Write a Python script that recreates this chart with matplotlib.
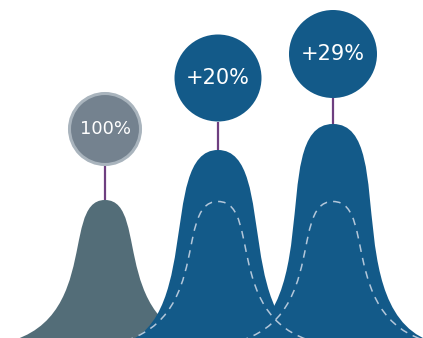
import numpy as np
import matplotlib
matplotlib.use("Agg")
import matplotlib.pyplot as plt
from matplotlib.patches import Circle, PathPatch
from matplotlib.path import Path

# data (pixel-like units, y up)
labels = ["100%", "+20%", "+29%"]
centers = [105, 218, 333]
peak_heights = [146, 196, 222]
base_half_widths = [133, 114.4, 127.5]
foot_handles = [137, 104.5, 132]   # bezier handle length at the foot
top_handles = [48.5, 63, 70.4]     # bezier handle length at the peak
bubble_y = [209, 260, 284]
bubble_r = [37, 43.5, 44]
font_sizes = [13, 15, 15]

fill_colors = ["#536d78", "#135a89", "#135a89"]
bubble_colors = ["#74828f", "#135a89", "#135a89"]
bubble_edges = ["#a9b4bd", "#135a89", "#135a89"]
line_color = "#6e3f80"
dash_color = "#b3c7da"

baseline = -8
W, H = 423, 338


def bell_path(c, h, L, k1, k2, closed=True):
    b = baseline
    verts = [(c - L, b), (c - L + k1, b), (c - k2, b + h), (c, b + h),
             (c + k2, b + h), (c + L - k1, b), (c + L, b)]
    codes = [Path.MOVETO] + [Path.CURVE4] * 6
    if closed:
        verts += [(c + L, b - 10), (c - L, b - 10), (c - L, b)]
        codes += [Path.LINETO, Path.LINETO, Path.CLOSEPOLY]
    return Path(verts, codes)


fig = plt.figure(figsize=(W / 100, H / 100), dpi=100)
ax = fig.add_axes([0, 0, 1, 1])
ax.set_xlim(0, W)
ax.set_ylim(0, H)
ax.set_aspect("equal")
ax.axis("off")

# filled bells
for i in range(3):
    p = bell_path(centers[i], peak_heights[i], base_half_widths[i],
                  foot_handles[i], top_handles[i])
    ax.add_patch(PathPatch(p, facecolor=fill_colors[i], lw=0, zorder=2 + i))

# dashed outline of the baseline bell inside the bigger ones
for i in range(1, 3):
    p = bell_path(centers[i], peak_heights[0] - 1.5, base_half_widths[0],
                  foot_handles[0], top_handles[0], closed=False)
    ax.add_patch(PathPatch(p, fill=False, edgecolor=dash_color, lw=1.1,
                           linestyle=(0, (5, 4)), zorder=10))

# stems and bubbles
for i in range(3):
    top = baseline + peak_heights[i]
    ax.plot([centers[i], centers[i]], [top, bubble_y[i] - bubble_r[i]],
            color=line_color, lw=1.6, zorder=6, solid_capstyle="butt")
    lw = 2.2 if i == 0 else 0
    ax.add_patch(Circle((centers[i], bubble_y[i]), bubble_r[i] - (1.5 if i == 0 else 0),
                        facecolor=bubble_colors[i], edgecolor=bubble_edges[i],
                        lw=lw, zorder=7))
    ax.text(centers[i], bubble_y[i], labels[i], color="white", fontsize=font_sizes[i],
            ha="center", va="center", zorder=8)

fig.savefig("out.png", dpi=100)
